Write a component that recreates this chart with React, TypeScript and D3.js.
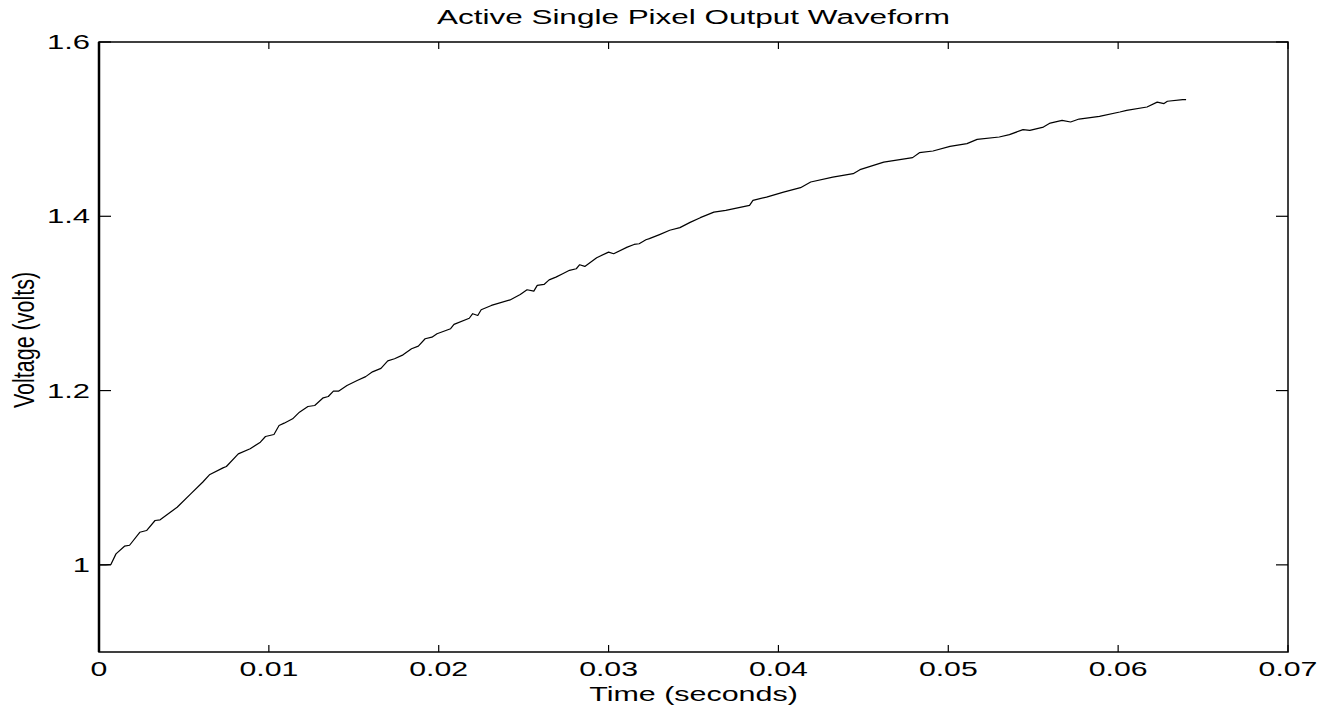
import { useEffect, useRef } from "react";
import * as d3 from "d3";

// Waveform samples (seconds, volts)
const TIME_S = [
  0, 0.0004, 0.0007, 0.001, 0.0015, 0.0018, 0.0024, 0.0028, 0.0033, 0.0036,
  0.0042, 0.0046, 0.0054, 0.0061, 0.0065, 0.0073, 0.0075, 0.0082, 0.0089, 0.0095,
  0.0098, 0.0103, 0.0106, 0.0109, 0.0114, 0.0118, 0.0123, 0.0127, 0.0132, 0.0135,
  0.0138, 0.0141, 0.0146, 0.0152, 0.0157, 0.0161, 0.0166, 0.017, 0.0174, 0.0179,
  0.0184, 0.0188, 0.0192, 0.0196, 0.0199, 0.0207, 0.0209, 0.0218, 0.022, 0.0223,
  0.0225, 0.0231, 0.0242, 0.0248, 0.0252, 0.0256, 0.0258, 0.0262, 0.0265, 0.0269,
  0.0273, 0.0277, 0.0281, 0.0283, 0.0286, 0.0293, 0.03, 0.0303, 0.0311, 0.0315,
  0.0318, 0.0322, 0.0324, 0.033, 0.0336, 0.0342, 0.0348, 0.0354, 0.0362, 0.0369,
  0.0383, 0.0385, 0.0393, 0.0403, 0.0413, 0.0419, 0.0432, 0.0444, 0.0448, 0.0462,
  0.0479, 0.0483, 0.0491, 0.0501, 0.0511, 0.0517, 0.053, 0.0536, 0.0544, 0.0548,
  0.0556, 0.056, 0.0567, 0.0572, 0.0577, 0.0589, 0.0601, 0.0605, 0.0617, 0.0623,
  0.0627, 0.0629, 0.0638, 0.064,
];
const VOLTAGE_V = [
  1.0, 1.0, 1.0005, 1.0126, 1.0214, 1.0225, 1.0374, 1.0394, 1.0509, 1.0517,
  1.0604, 1.0661, 1.0815, 1.0948, 1.1033, 1.1113, 1.1129, 1.1274, 1.1332, 1.1408,
  1.1473, 1.1496, 1.16, 1.1626, 1.1676, 1.1752, 1.1817, 1.1829, 1.1917, 1.1932,
  1.1993, 1.1993, 1.2059, 1.2116, 1.216, 1.2215, 1.2255, 1.234, 1.2365, 1.241,
  1.248, 1.251, 1.2595, 1.2613, 1.2652, 1.271, 1.2759, 1.283, 1.2882, 1.2862,
  1.2928, 1.2977, 1.304, 1.3103, 1.3157, 1.3141, 1.3207, 1.3218, 1.327, 1.3302,
  1.3341, 1.338, 1.3398, 1.3444, 1.3425, 1.3525, 1.3589, 1.357, 1.3646, 1.3677,
  1.3685, 1.3731, 1.3743, 1.379, 1.384, 1.387, 1.393, 1.3984, 1.4048, 1.4068,
  1.4125, 1.4183, 1.422, 1.4278, 1.4328, 1.4393, 1.445, 1.4489, 1.4535, 1.4622,
  1.4673, 1.473, 1.4749, 1.4803, 1.4834, 1.4883, 1.491, 1.4937, 1.4994, 1.4986,
  1.5024, 1.507, 1.51, 1.5082, 1.5116, 1.5147, 1.5197, 1.5216, 1.5254, 1.531,
  1.5293, 1.532, 1.5338, 1.5338,
];

const X_TICKS = [0, 0.01, 0.02, 0.03, 0.04, 0.05, 0.06, 0.07];
const Y_TICKS = [1, 1.2, 1.4, 1.6];
const X_DOMAIN = [0, 0.07];
const Y_DOMAIN = [0.9, 1.6];

const FONT = "'Liberation Sans', Arial, Helvetica, sans-serif";

export default function App() {
  const svgRef = useRef<SVGSVGElement>(null);

  useEffect(() => {
    if (!svgRef.current) return;
    const W = 1332;
    const H = 710;
    const m = { top: 42, right: 44, bottom: 58, left: 99 };
    const iW = W - m.left - m.right;
    const iH = H - m.top - m.bottom;

    const svg = d3.select(svgRef.current);
    svg.selectAll("*").remove();
    svg.attr("width", W).attr("height", H);

    const g = svg.append("g").attr("transform", `translate(${m.left},${m.top})`);

    const x = d3.scaleLinear().domain(X_DOMAIN).range([0, iW]);
    const y = d3.scaleLinear().domain(Y_DOMAIN).range([iH, 0]);

    // stretched text helper (the source figure is widened horizontally)
    const label = (
      parent: any, px: number, py: number, txt: string,
      size: number, sx: number, anchor: string, rot = 0
    ) =>
      parent.append("text")
        .attr("transform", `translate(${px},${py}) scale(${sx},1)${rot ? ` rotate(${rot})` : ""}`)
        .attr("text-anchor", anchor)
        .attr("font-family", FONT)
        .attr("font-size", size)
        .attr("fill", "#000")
        .text(txt);

    // line
    const pts = TIME_S.map((t, i) => [t, VOLTAGE_V[i]] as [number, number]);
    const line = d3.line<[number, number]>().x(d => x(d[0])).y(d => y(d[1]));
    g.append("path")
      .datum(pts)
      .attr("d", line)
      .attr("fill", "none")
      .attr("stroke", "#000")
      .attr("stroke-width", 1.2)
      .attr("stroke-linejoin", "round");

    // ticks (inward, mirrored)
    const xt = 7, yt = 12;
    X_TICKS.forEach(v => {
      const px = x(v);
      g.append("line").attr("x1", px).attr("x2", px).attr("y1", iH).attr("y2", iH - xt)
        .attr("stroke", "#000").attr("stroke-width", 1.2);
      g.append("line").attr("x1", px).attr("x2", px).attr("y1", 0).attr("y2", xt)
        .attr("stroke", "#000").attr("stroke-width", 1.2);
      label(g, px, iH + 24, String(v), 19.5, 1.55, "middle");
    });
    Y_TICKS.forEach(v => {
      const py = y(v);
      g.append("line").attr("x1", 0).attr("x2", yt).attr("y1", py).attr("y2", py)
        .attr("stroke", "#000").attr("stroke-width", 1.2);
      g.append("line").attr("x1", iW).attr("x2", iW - yt).attr("y1", py).attr("y2", py)
        .attr("stroke", "#000").attr("stroke-width", 1.2);
      label(g, -9, py + 7, String(v), 20, 1.55, "end");
    });

    // frame
    g.append("rect").attr("x", 0).attr("y", 0).attr("width", iW).attr("height", iH)
      .attr("fill", "none").attr("stroke", "#000").attr("stroke-width", 1.5);
    g.append("line").attr("x1", 0).attr("x2", 0).attr("y1", 0).attr("y2", iH)
      .attr("stroke", "#000").attr("stroke-width", 2.5);

    // titles
    label(svg, m.left + iW / 2, 24, "Active Single Pixel Output Waveform", 21, 1.5, "middle");
    label(svg, m.left + iW / 2, 701, "Time (seconds)", 21, 1.45, "middle");
    label(svg, 34, 340, "Voltage (volts)", 21.5, 1.4, "middle", -90);
  }, []);

  return (
    <svg
      ref={svgRef}
      style={{ position: "absolute", left: 0, top: 0, display: "block", background: "#fff" }}
    />
  );
}
